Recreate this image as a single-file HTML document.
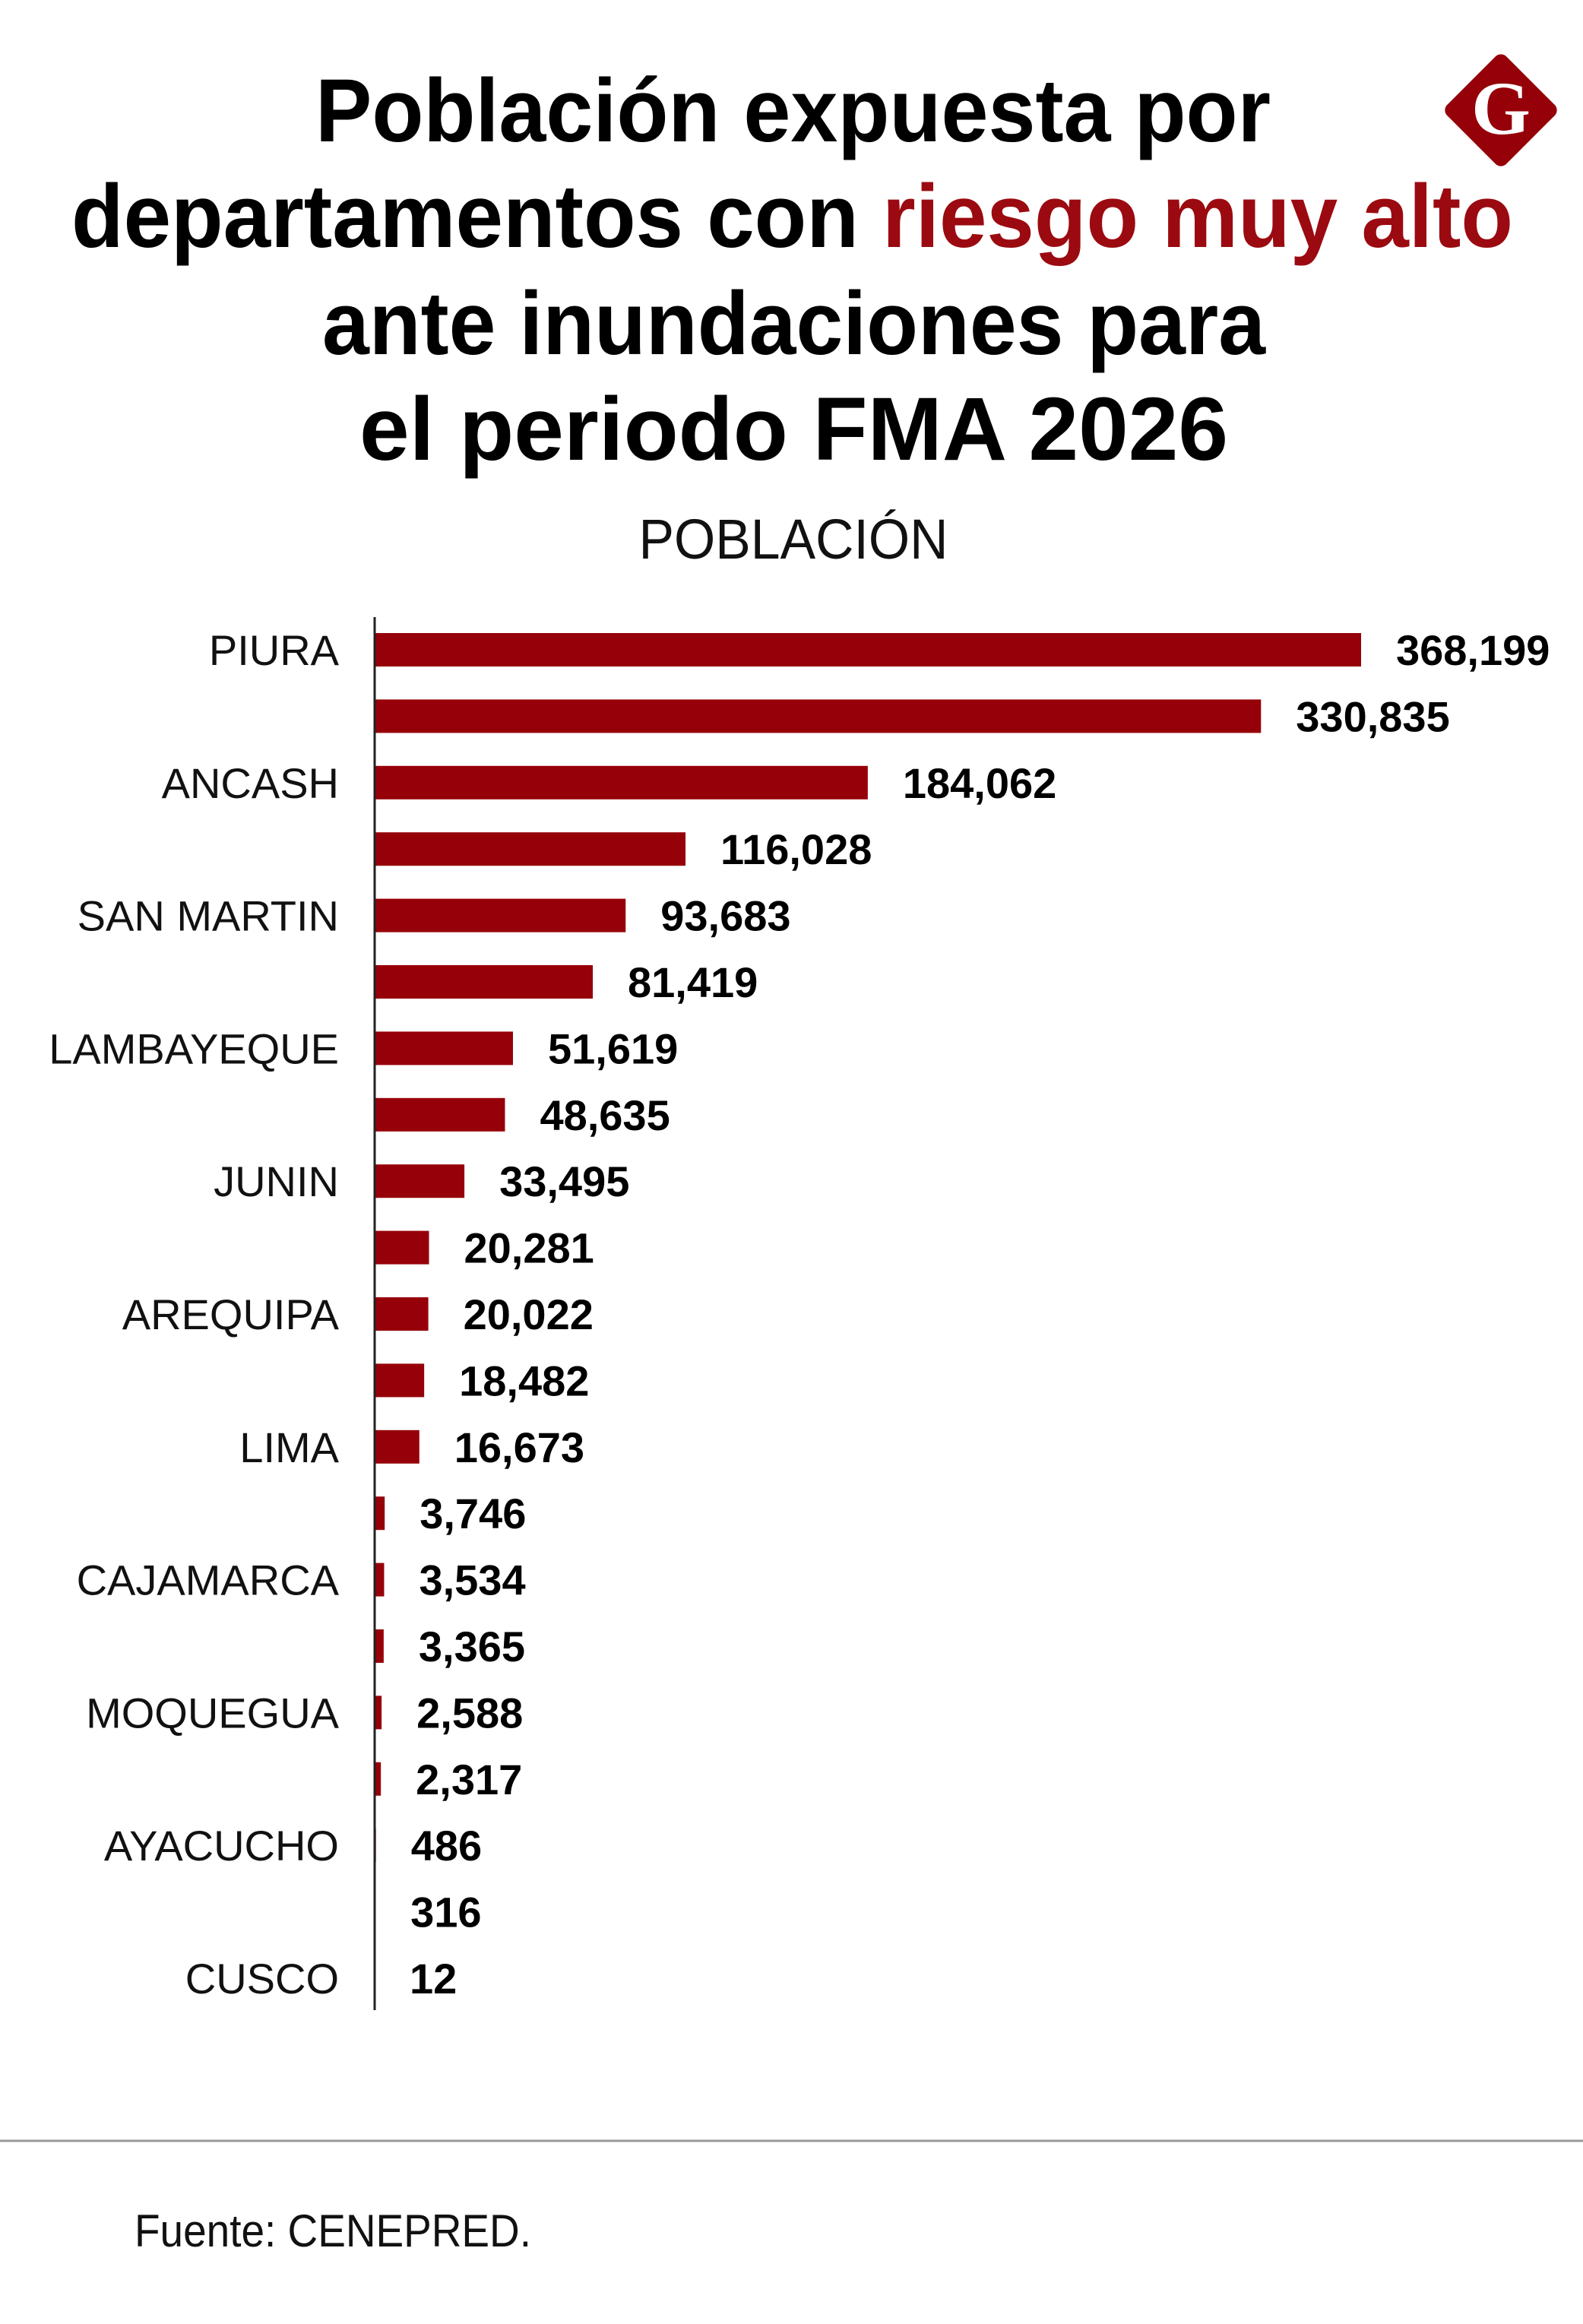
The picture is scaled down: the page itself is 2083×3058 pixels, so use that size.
<!DOCTYPE html>
<html><head><meta charset="utf-8">
<style>
html,body{margin:0;padding:0;background:#fff;}
svg{display:block;}
</style></head>
<body>
<svg id="chart" width="2083" height="3058" viewBox="0 0 2083 3058" xmlns="http://www.w3.org/2000/svg" font-family="'Liberation Sans', sans-serif">
<g font-weight="bold" font-size="118" fill="#000" text-anchor="start">
<text x="415" y="186" textLength="1257" lengthAdjust="spacingAndGlyphs">Población expuesta por</text>
<text x="94" y="325" textLength="1897" lengthAdjust="spacingAndGlyphs">departamentos con <tspan fill="#9b0a10">riesgo muy alto</tspan></text>
<text x="424" y="466" textLength="1241" lengthAdjust="spacingAndGlyphs">ante inundaciones para</text>
<text x="473" y="605" textLength="1143" lengthAdjust="spacingAndGlyphs">el periodo FMA 2026</text>
</g>
<g>
<rect x="1920" y="90" width="110" height="110" rx="10" transform="rotate(45 1975 145)" fill="#960008"/>
<text x="1975" y="176" text-anchor="middle" font-family="'Liberation Serif', serif" font-weight="bold" font-size="100" fill="#fff">G</text>
</g>
<text x="1044" y="735" text-anchor="middle" font-size="74" textLength="407" lengthAdjust="spacingAndGlyphs" fill="#111">POBLACIÓN</text>
<g id="bars"></g>
<line x1="493" y1="812" x2="493" y2="2645" stroke="#222" stroke-width="3"/>
<line x1="0" y1="2817" x2="2083" y2="2817" stroke="#999" stroke-width="3"/>
<text x="177" y="2956" font-size="60" fill="#111" textLength="522" lengthAdjust="spacingAndGlyphs">Fuente: CENEPRED.</text>
</svg>
<script>
const categories = ["PIURA","","ANCASH","","SAN MARTIN","","LAMBAYEQUE","","JUNIN","","AREQUIPA","","LIMA","","CAJAMARCA","","MOQUEGUA","","AYACUCHO","","CUSCO"];
const values = [368199,330835,184062,116028,93683,81419,51619,48635,33495,20281,20022,18482,16673,3746,3534,3365,2588,2317,486,316,12];
const valueLabels = ["368,199","330,835","184,062","116,028","93,683","81,419","51,619","48,635","33,495","20,281","20,022","18,482","16,673","3,746","3,534","3,365","2,588","2,317","486","316","12"];

const NS = "http://www.w3.org/2000/svg";
const x0 = 493, xMaxPx = 1298, vMax = 368199;
const y0 = 855, step = 87.4, barH = 44;
function xScale(v){ return v / vMax * xMaxPx; }
function yScale(i){ return y0 + i * step; }
const g = document.getElementById('bars');
values.forEach((v, i) => {
  const cy = yScale(i);
  const w = Math.max(xScale(v), v > 1000 ? 8 : 1);
  const r = document.createElementNS(NS, 'rect');
  
  
  r.setAttribute('x', x0);
  r.setAttribute('y', cy - barH / 2);
  r.setAttribute('width', w);
  r.setAttribute('height', barH);
  r.setAttribute('fill', '#960008');
  g.appendChild(r);
  const t = document.createElementNS(NS, 'text');
  
  
  t.setAttribute('x', x0 + xScale(v) + 46);
  t.setAttribute('y', cy + 20);
  t.setAttribute('font-size', '56');
  t.setAttribute('font-weight', 'bold');
  t.setAttribute('fill', '#000');
  t.textContent = valueLabels[i];
  g.appendChild(t);
  if (categories[i]) {
    const c = document.createElementNS(NS, 'text');
    
    
    c.setAttribute('x', 446);
    c.setAttribute('y', cy + 20);
    c.setAttribute('text-anchor', 'end');
    c.setAttribute('font-size', '56');
    c.setAttribute('fill', '#111');
    c.textContent = categories[i];
    g.appendChild(c);
  }
});
</script>
</body></html>
